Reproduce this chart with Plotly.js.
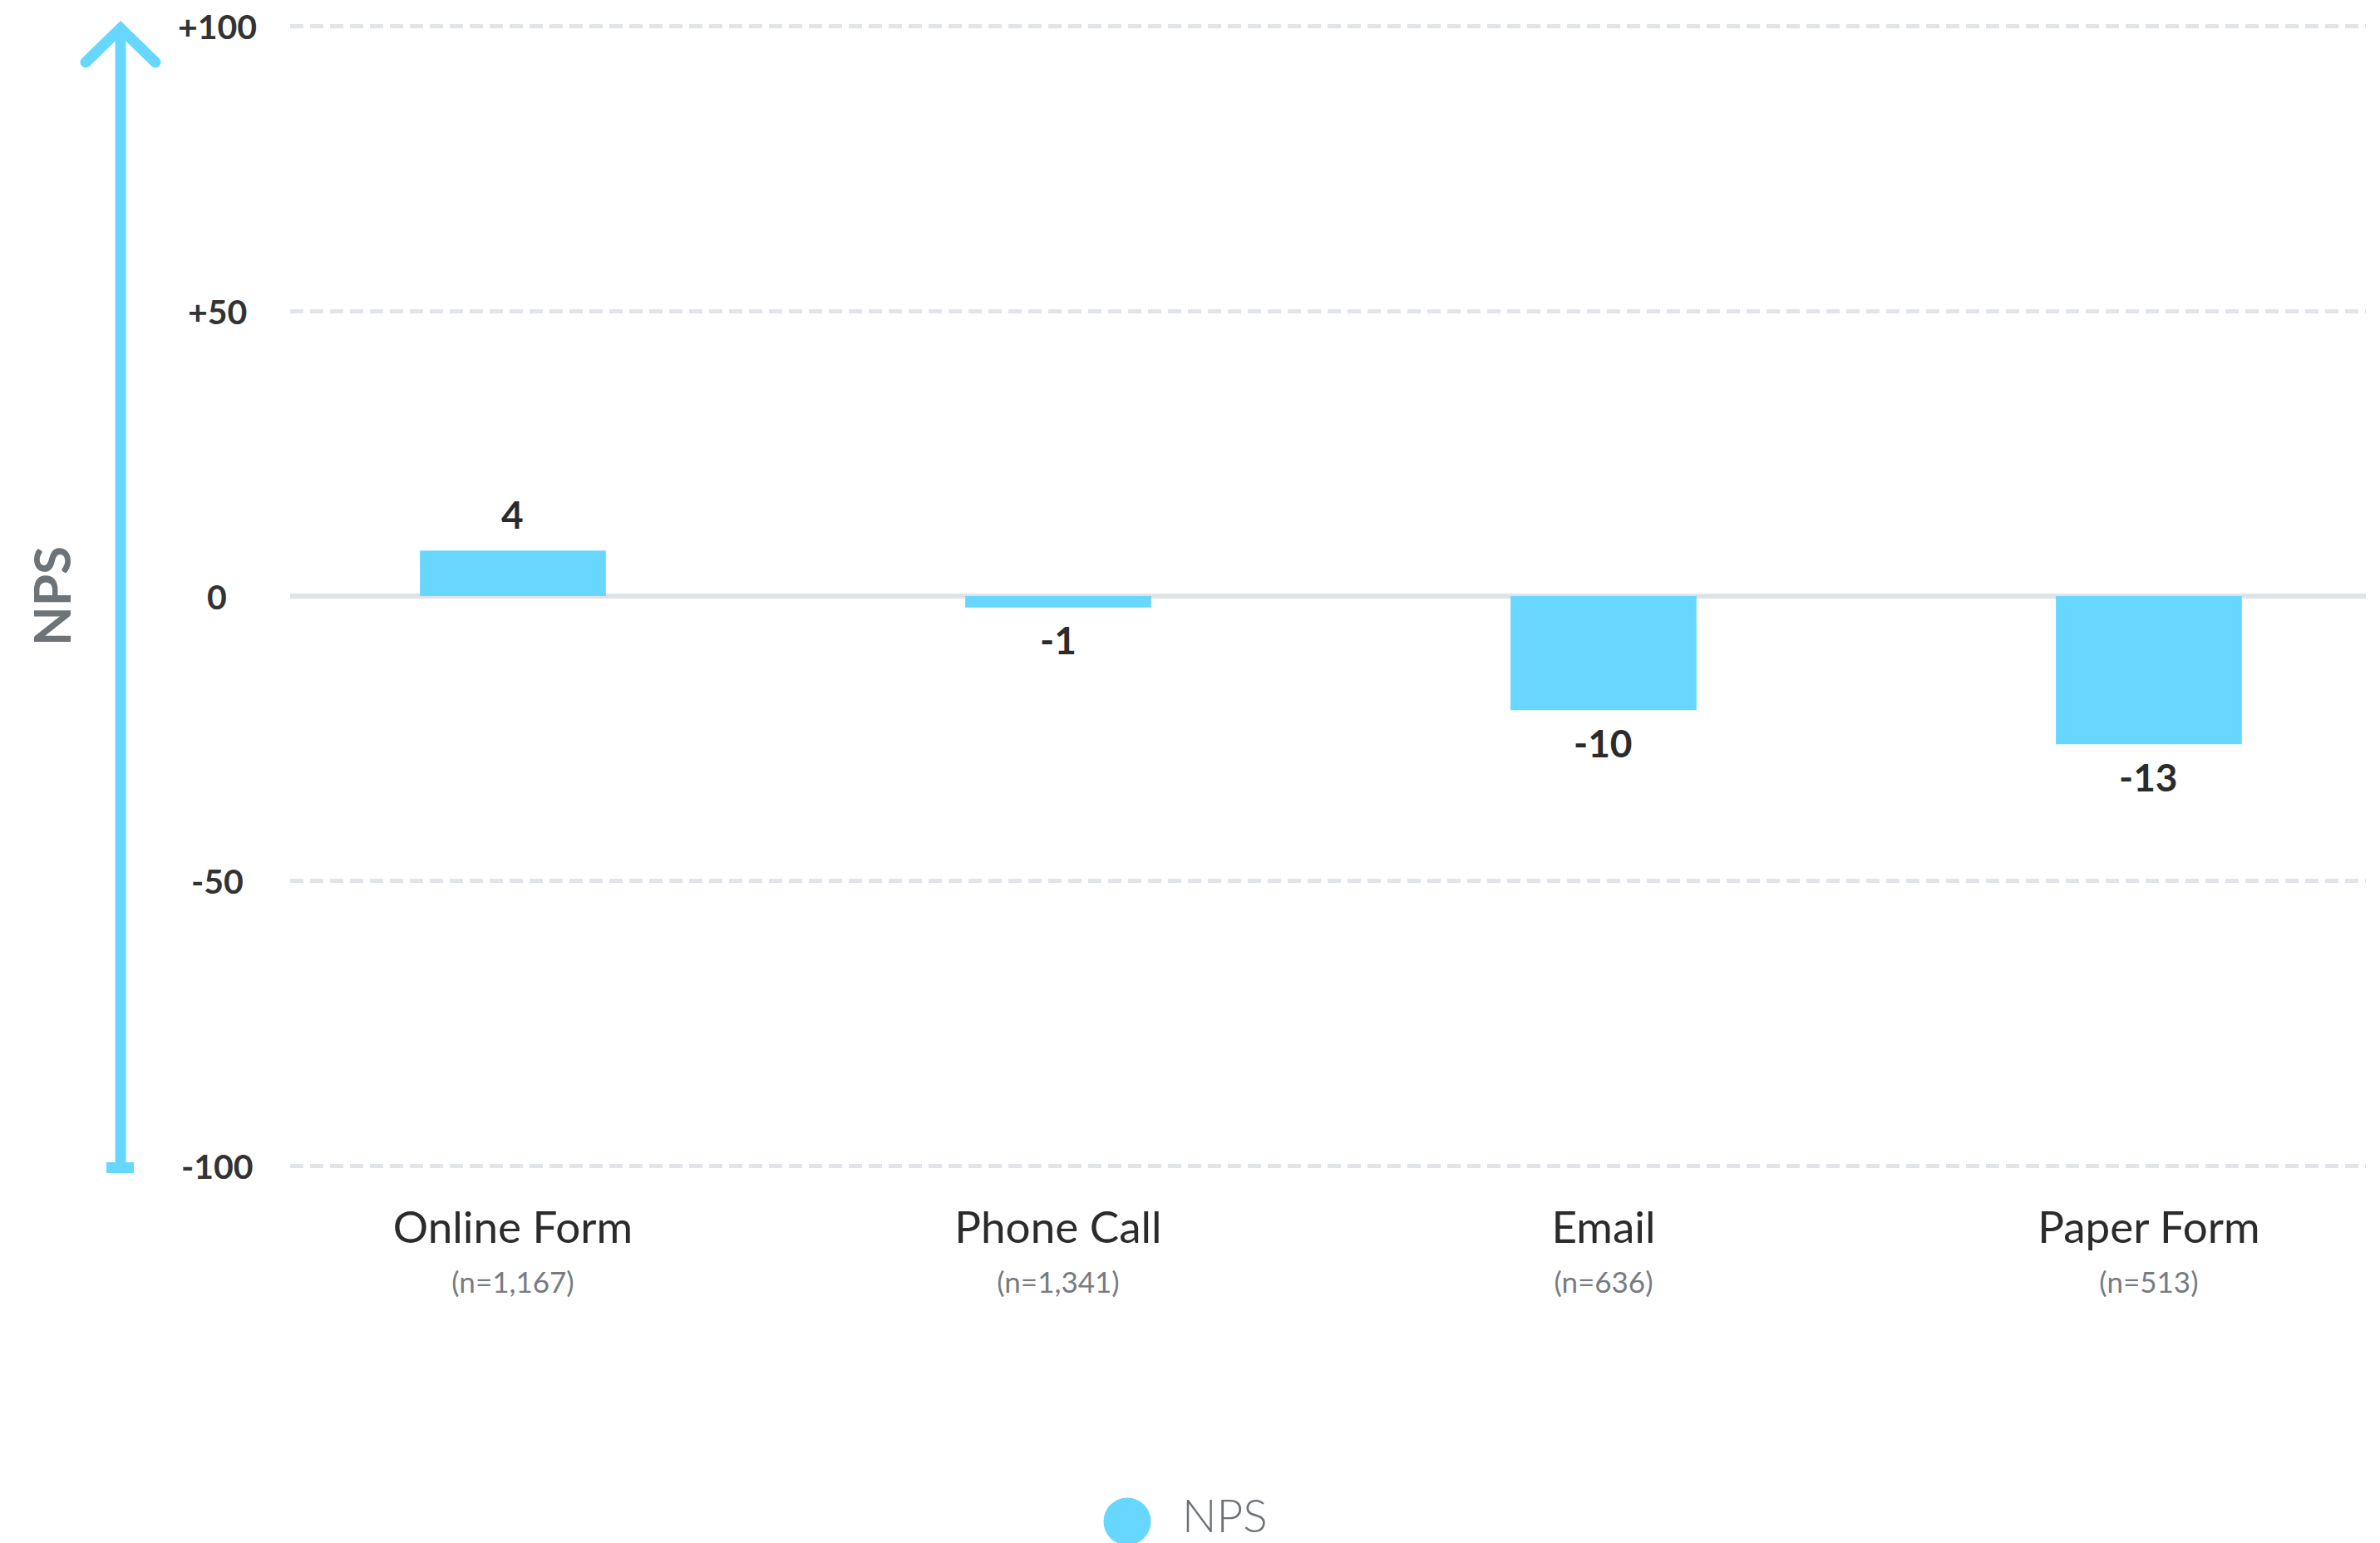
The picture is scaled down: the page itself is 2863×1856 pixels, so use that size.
<!DOCTYPE html>
<html>
<head>
<meta charset="utf-8">
<script src="https://cdn.plot.ly/plotly-3.0.1.min.js"></script>
<style>
html,body{margin:0;padding:0;background:#fff;}
#chart{width:2863px;height:1856px;}
</style>
</head>
<body>
<div id="chart"></div>
<script>
// ---- data ----
const categories = ['Online Form', 'Phone Call', 'Email', 'Paper Form'];
const sampleSizes = ['1,167', '1,341', '636', '513'];
const npsValues = [4, -1, -10, -13];
const yTickVals = [-50, -25, 0, 25, 50];
const yTickText = ['-100', '-50', '0', '+50', '+100'];
const seriesName = 'NPS';

// ---- style ----
const BAR = '#67d7ff';
const GRID = '#e1e4e9';
const DARK = '#2b2b2b';
const GREY = '#6e7378';
const FONT = 'Lato, "Open Sans", sans-serif';

// layout geometry in pixels (plot range padded a little so edge gridlines show)
const W = 2863, H = 1856;
const L = 349, R = 17, T = 23, B = 445;
const PW = W - L - R, PH = H - T - B;
const px = v => (v - L) / PW;        // page x -> paper
const py = v => (H - B - v) / PH;    // page y -> paper

const tickText = categories.map((c, i) =>
  '<span style="font-size:53px">' + c + '</span><br><span style="font-size:35px;color:#777b81">(n=' + sampleSizes[i] + ')</span>');

const trace = {
  type: 'bar',
  x: categories,
  y: npsValues,
  name: seriesName,
  width: 0.341,
  marker: {color: BAR},
  hoverinfo: 'x+y',
  showlegend: false
};

const annotations = npsValues.map((v, i) => ({
  x: categories[i], y: v, xref: 'x', yref: 'y',
  text: String(v), showarrow: false,
  xanchor: 'center', yanchor: 'middle',
  yshift: v >= 0 ? 44 : -39,
  font: {family: FONT, size: 46, color: DARK, weight: 700}
}));

// y tick labels, centre-aligned as in the original
yTickVals.forEach((v, i) => annotations.push({
  xref: 'paper', yref: 'y', x: px(261), y: v,
  xanchor: 'center', yanchor: 'middle', showarrow: false,
  text: yTickText[i],
  font: {family: FONT, size: 41, color: '#333333', weight: 700}
}));

// manual legend text
annotations.push({
  xref: 'paper', yref: 'paper', x: px(1420), y: py(1822),
  xanchor: 'left', yanchor: 'middle', showarrow: false,
  text: seriesName,
  font: {family: FONT, size: 55, color: GREY, weight: 300}
});

const axisLineX = px(145);
const shapes = [
  // vertical axis arrow shaft
  {type: 'line', xref: 'paper', yref: 'paper', x0: axisLineX, x1: axisLineX,
   y0: py(1404), y1: py(34), line: {color: BAR, width: 13}, layer: 'above'},
  // arrowhead
  {type: 'path', xref: 'paper', yref: 'paper',
   path: 'M ' + px(103) + ' ' + py(75) + ' L ' + px(145) + ' ' + py(34) + ' L ' + px(187) + ' ' + py(75),
   line: {color: BAR, width: 13}, layer: 'above'},
  // round caps at arm ends
  {type: 'circle', xref: 'paper', yref: 'paper', xsizemode: 'pixel', ysizemode: 'pixel',
   xanchor: px(103), yanchor: py(75), x0: -6.5, x1: 6.5, y0: -6.5, y1: 6.5,
   fillcolor: BAR, line: {width: 0}},
  {type: 'circle', xref: 'paper', yref: 'paper', xsizemode: 'pixel', ysizemode: 'pixel',
   xanchor: px(187), yanchor: py(75), x0: -6.5, x1: 6.5, y0: -6.5, y1: 6.5,
   fillcolor: BAR, line: {width: 0}},
  // bottom cap
  {type: 'rect', xref: 'paper', yref: 'paper',
   x0: px(128), x1: px(161), y0: py(1411), y1: py(1398),
   fillcolor: BAR, line: {width: 0}},
  // legend dot
  {type: 'circle', xref: 'paper', yref: 'paper', xsizemode: 'pixel', ysizemode: 'pixel',
   xanchor: px(1356), yanchor: py(1830), x0: -28.5, x1: 28.5, y0: -28.5, y1: 28.5,
   fillcolor: BAR, line: {width: 0}}
];

const layout = {
  width: W, height: H,
  margin: {l: L, r: R, t: T, b: B, pad: 0},
  paper_bgcolor: '#fff', plot_bgcolor: '#fff',
  showlegend: false,
  font: {family: FONT, color: DARK},
  xaxis: {
    type: 'category',
    range: [-0.4085, 3.398],
    tickvals: categories,
    ticktext: tickText,
    ticks: '',
    showgrid: false, zeroline: false, showline: false,
    tickfont: {family: FONT, size: 46, color: DARK},
    ticklabelstandoff: 37,
    fixedrange: true
  },
  yaxis: {
    range: [-50.6, 50.6],
    tickvals: yTickVals,
    ticktext: yTickText,
    showticklabels: false,
    ticks: '',
    showline: false,
    showgrid: true, gridcolor: GRID, gridwidth: 5, griddash: '16px,8px',
    zeroline: true, zerolinecolor: '#dfe2e6', zerolinewidth: 6,
    title: {text: 'NPS', standoff: 242, font: {family: FONT, size: 62, color: GREY, weight: 700}},
    fixedrange: true
  },
  annotations: annotations,
  shapes: shapes
};

Plotly.newPlot('chart', [trace], layout, {displayModeBar: false, staticPlot: true});
</script>
</body>
</html>
